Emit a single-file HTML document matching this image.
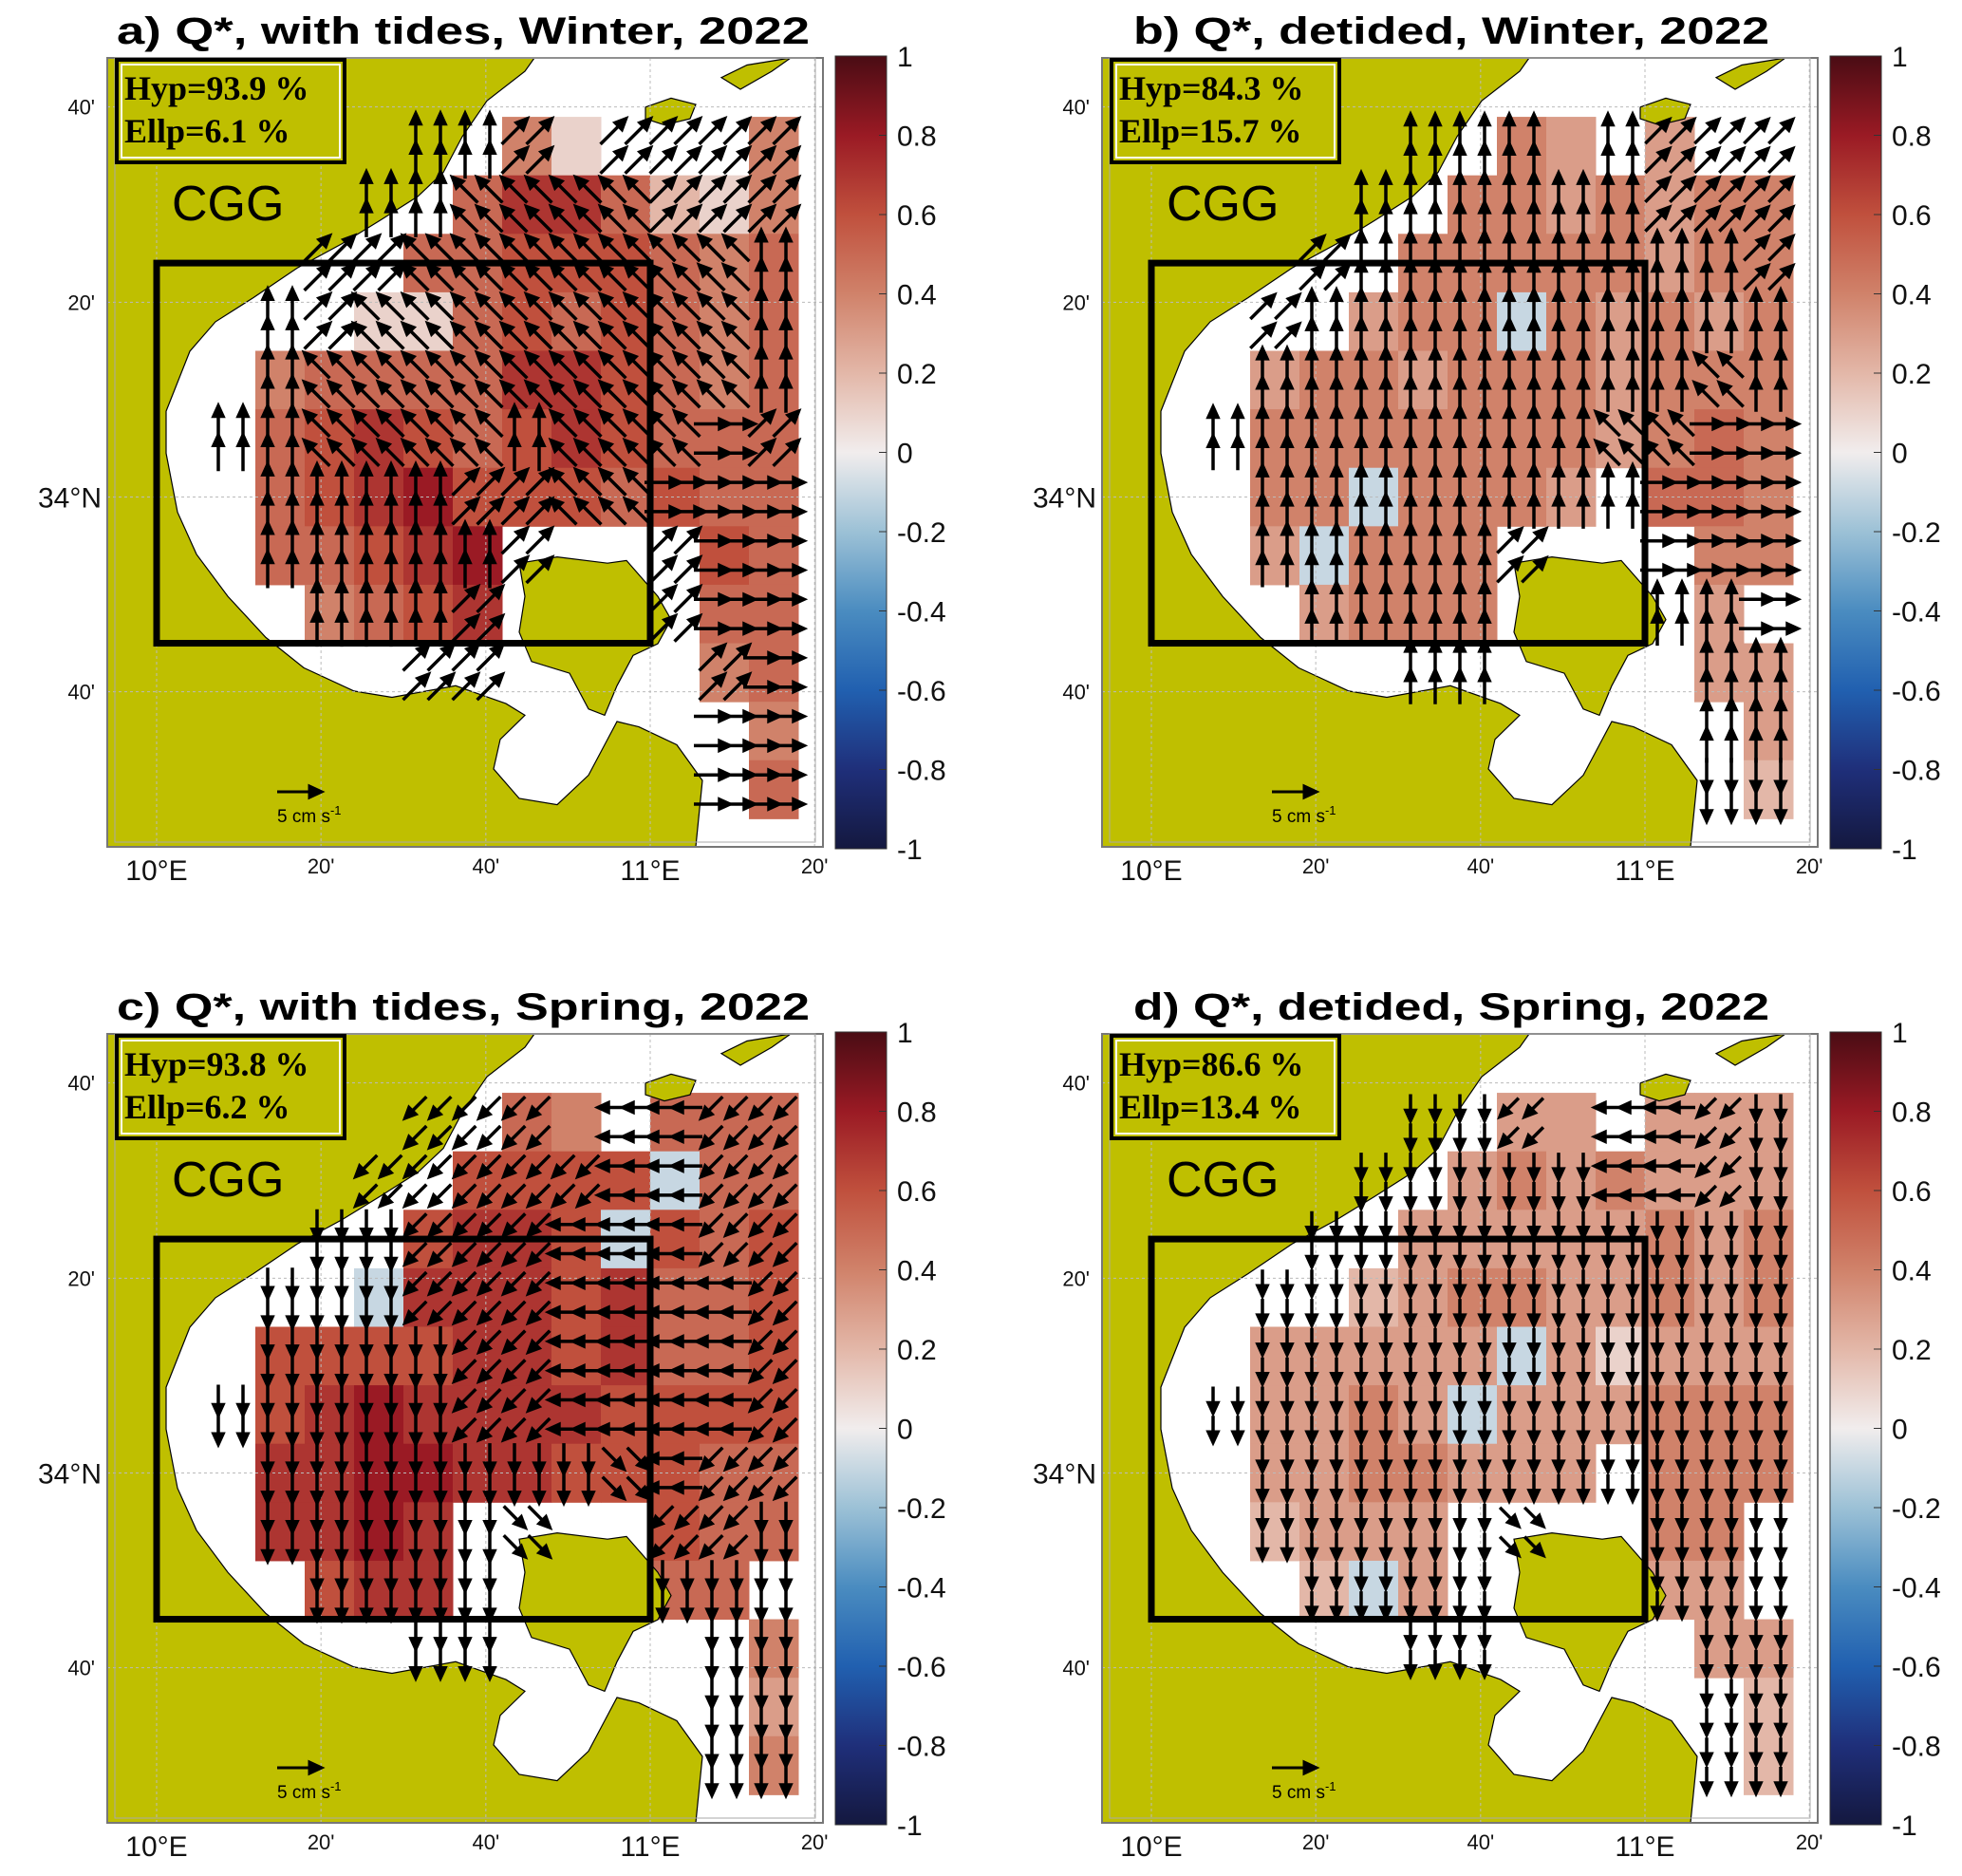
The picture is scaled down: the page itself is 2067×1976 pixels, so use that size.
<!DOCTYPE html>
<html><head><meta charset="utf-8"><style>
html,body{margin:0;padding:0;background:#fff}
svg{display:block}
</style></head><body>
<svg id="fig" xmlns="http://www.w3.org/2000/svg" width="2067" height="1976" viewBox="0 0 2067 1976">
<defs>
<linearGradient id="cmap" x1="0" y1="1" x2="0" y2="0">
<stop offset="0" stop-color="#14183f"/><stop offset="0.1" stop-color="#1f2f7a"/><stop offset="0.2" stop-color="#2160b0"/><stop offset="0.3" stop-color="#4a8cc0"/><stop offset="0.4" stop-color="#9cc1d6"/><stop offset="0.5" stop-color="#f1eded"/><stop offset="0.6" stop-color="#e3b7a8"/><stop offset="0.7" stop-color="#d0826a"/><stop offset="0.8" stop-color="#c0503d"/><stop offset="0.9" stop-color="#9a1a24"/><stop offset="1" stop-color="#4a0c14"/>
</linearGradient>
<clipPath id="waterclip"><polygon id="wcp" points=""/></clipPath>
<clipPath id="mapclip"><rect x="113" y="61" width="754" height="831"/></clipPath>
</defs>
</svg>
<script>
const titles = ["a) Q*, with tides, Winter, 2022","b) Q*, detided, Winter, 2022","c) Q*, with tides, Spring, 2022","d) Q*, detided, Spring, 2022"];
const hypValues = ["93.9","84.3","93.8","86.6"];
const ellpValues = ["6.1","15.7","6.2","13.4"];
const colorbarTicks = [1,0.8,0.6,0.4,0.2,0,-0.2,-0.4,-0.6,-0.8,-1];
const latTicks = [34.667,34.333,34,33.667];
const latTickLabels = ["40'","20'","34°N","40'"];
const lonTicks = [10,10.333,10.667,11,11.333];
const lonTickLabels = ["10°E","20'","40'","11°E","20'"];
const heatA = ["......41...4",".....5775214","....55666545","...115656545",".45555776545",".56765676555",".56786665655",".55678....65","..4567....55","..........45","...........4","...........5"];
const heatB = ["......43.3..",".....4434344","....44444344","...344a43434",".34434443444",".44444443454",".44a4443.554",".3a444....44","..3444....3.","..........33","...........3","...........2"];
const heatC = ["......54.555",".....6666a55","....6776a656","...a77767556",".66667767556",".67877776666",".77887766655",".7787....655","..677....55.","...........4","...........3","...........4"];
const heatD = ["......33.333",".....3434333","....33333434","...234433434",".33333a31333",".3343a333444",".3344333.444",".2333....44.","..2a3....33.","..........33","...........2","...........2"];
// directions: 0=N,1=NE,2=E,3=SE,4=S,5=SW,6=W,7=NW
const dirA = ["....001.1111","...007777111","..1177777770",".01777777770",".07777777770","007777077721",".00001177222",".000001..122","..0001...122","....11....12","..........22","..........22"];
const dirB = ["....000.0111","...000000111","..1000000001",".10000000000",".00000000070","000000007722",".00000000222",".000001..222","..0000...002","....00....00","..........00","..........44"];
const dirC = ["....555.6655","...555556655","..4455566655",".44455566665",".44445566665","444445566665",".44444443655",".444443..554","..4444...444","....44....44","..........44","..........44"];
const dirD = ["....445.6654","...444446654","..4444444444",".44444444444",".44444444444","444444444444",".44444444444",".444443..444","..4444...444","....44....44","..........44","..........44"];

const heats=[heatA,heatB,heatC,heatD], dirs=[dirA,dirB,dirC,dirD];
const arrowLen=[38,36,32,28];
const NS="http://www.w3.org/2000/svg";
const svg=document.getElementById('fig');
function mk(tag,attrs,parent){const e=document.createElementNS(NS,tag);for(const k in attrs)e.setAttribute(k,attrs[k]);(parent||svg).appendChild(e);return e;}
const Y=y=>61+(y-65)*0.942;
function tp(s){return s.trim().split(/\s+/).map(p=>{const [x,y]=p.split(',').map(Number);return x+','+Y(y).toFixed(1);}).join(' ');}
const lonToX=lon=>165+(lon-10)*520;
const latToY=lat=>Y(556-(lat-34)*654);
const stops=[[-1,[20,24,63]],[-0.8,[31,47,122]],[-0.6,[33,96,176]],[-0.4,[74,140,192]],[-0.2,[156,193,214]],[0,[241,237,237]],[0.2,[227,183,168]],[0.4,[208,130,106]],[0.6,[192,80,61]],[0.8,[154,26,36]],[1,[74,12,20]]];
function cmap(v){for(let i=0;i<stops.length-1;i++){const a=stops[i],b=stops[i+1];if(v<=b[0]){const t=(v-a[0])/(b[0]-a[0]);return 'rgb('+a[1].map((c,j)=>Math.round(c+(b[1][j]-c)*t)).join(',')+')';}}return 'rgb(74,12,20)';}
function decode(ch){if(ch==='.')return null;if(ch>='0'&&ch<='9')return +ch/10;return -(ch.charCodeAt(0)-96)/10;}
const waterPts=tp("733,947 740,873 713,833 673,813 650,807 637,833 620,867 587,900 547,893 520,860 527,827 553,800 533,787 480,767 413,780 373,773 320,747 280,713 240,667 207,620 187,573 175,507 175,460 200,393 227,360 267,333 313,300 360,273 400,247 440,220 467,193 487,153 513,113 553,80 563,65 867,65 867,947");
document.getElementById('wcp').setAttribute('points',waterPts);
const islands=[["djerba-island",tp("547,630 587,623 640,630 660,627 693,667 707,693 693,720 667,733 650,767 637,800 620,793 600,753 560,740 547,707 553,667")],["kerkennah-island",tp("680,120 707,110 733,117 727,133 700,140 680,133")],["northeast-island",tp("760,87 787,73 833,65 813,80 780,100")]];
const mapTop=61, mapBot=892;

for(let p=0;p<4;p++){
  const dx=(p%2)*1048, dy=Math.floor(p/2)*1028;
  const g=mk('g',{transform:`translate(${dx},${dy})`});
  
  
  const land=mk('rect',{x:113,y:mapTop,width:754,height:mapBot-mapTop,fill:'#bfbf00'},g);
  
  
  const water=mk('polygon',{points:waterPts,fill:'#fff',stroke:'#000','stroke-width':1.2},g);
  
  
  const hg=mk('g',{'clip-path':'url(#waterclip)'},g);
  
  
  const H=heats[p];
  for(let r=0;r<H.length;r++)for(let c=0;c<H[r].length;c++){
    const v=decode(H[r][c]); if(v===null)continue;
    const lon0=10.1+c*0.1, latTop=34.65-r*0.1;
    const x0=lonToX(lon0), x1=lonToX(lon0+0.1), y0=latToY(latTop), y1=latToY(latTop-0.1);
    const cell=mk('rect',{x:x0,y:y0,width:x1-x0+0.5,height:y1-y0+0.5,fill:cmap(v)},hg);
    
    
  }
  for(const [nm,pts] of islands){
    const isl=mk('polygon',{points:pts,fill:'#bfbf00',stroke:'#000','stroke-width':1.2},g);
    
    
  }
  for(const lt of latTicks){const y=latToY(lt);const l=mk('line',{x1:113,x2:867,y1:y,y2:y,stroke:'#bbb','stroke-width':1,'stroke-dasharray':'3,3'},g);}
  for(const ln of lonTicks){const x=lonToX(ln);const l=mk('line',{x1:x,x2:x,y1:mapTop,y2:mapBot,stroke:'#bbb','stroke-width':1,'stroke-dasharray':'3,3'},g);}
  const box=mk('rect',{x:lonToX(10),y:latToY(34.4),width:lonToX(11)-lonToX(10),height:latToY(33.75)-latToY(34.4),fill:'none',stroke:'#000','stroke-width':7},g);
  
  
  const ag=mk('g',{'clip-path':'url(#mapclip)'},g);
  
  
  const D=dirs[p], L=arrowLen[p];
  for(let r=0;r<D.length;r++)for(let c=0;c<D[r].length;c++){
    const ch=D[r][c]; if(ch==='.')continue;
    const ang=(+ch)*45*Math.PI/180;
    for(let sy=0;sy<2;sy++)for(let sx=0;sx<2;sx++){
      const lon=10.1+c*0.1+0.025+sx*0.05, lat=34.65-r*0.1-0.025-sy*0.05;
      const cx=lonToX(lon), cy=latToY(lat);
      const ux=Math.sin(ang), uy=-Math.cos(ang);
      const tx=cx+ux*L/2, ty=cy+uy*L/2, bx=cx-ux*L/2, by=cy-uy*L/2;
      const hx=tx-ux*11, hy=ty-uy*11, px=-uy*5, py=ux*5;
      const a=mk('path',{d:`M${bx.toFixed(1)},${by.toFixed(1)}L${hx.toFixed(1)},${hy.toFixed(1)}M${tx.toFixed(1)},${ty.toFixed(1)}L${(hx+px).toFixed(1)},${(hy+py).toFixed(1)}L${(hx-px).toFixed(1)},${(hy-py).toFixed(1)}Z`,stroke:'#000','stroke-width':3.5,fill:'#000'},ag);
      
      
    }
  }
  const fr=mk('rect',{x:113,y:mapTop,width:754,height:mapBot-mapTop,fill:'none',stroke:'#777','stroke-width':2},g);
  
  
  const fr2=mk('rect',{x:121,y:mapTop,width:738,height:mapBot-mapTop-5,fill:'none',stroke:'#aaa','stroke-width':1},g);
  
  
  latTicks.forEach((lt,i)=>{const big=latTickLabels[i].includes('N');const t=mk('text',{x:big?107:100,y:latToY(lt)+(big?11:8),'text-anchor':'end','font-family':'Liberation Sans, DejaVu Sans, sans-serif','font-size':big?30:22,fill:'#111'},g);t.textContent=latTickLabels[i];});
  lonTicks.forEach((ln,i)=>{const big=lonTickLabels[i].includes('E');const t=mk('text',{x:lonToX(ln),y:big?927:920,'text-anchor':'middle','font-family':'Liberation Sans, DejaVu Sans, sans-serif','font-size':big?30:22,fill:'#111'},g);t.textContent=lonTickLabels[i];});
  const tt=mk('text',{x:p%2?146:123,y:46,'font-family':'Liberation Sans, DejaVu Sans, sans-serif','font-weight':'bold','font-size':40,fill:'#000',textLength:p%2?670:730,lengthAdjust:'spacingAndGlyphs'},g);
  tt.textContent=titles[p];
  
  
  const hb=mk('rect',{x:123,y:63,width:240,height:108,fill:'#bfbf00',stroke:'#000','stroke-width':4},g);
  
  
  const hb2=mk('rect',{x:128,y:68,width:230,height:98,fill:'none',stroke:'#fff','stroke-width':2},g);
  
  
  const h1=mk('text',{x:131,y:105,'font-family':'Liberation Serif, serif','font-weight':'bold','font-size':36,fill:'#000'},g);
  h1.textContent='Hyp='+hypValues[p]+' %';
  
  
  const h2=mk('text',{x:131,y:150,'font-family':'Liberation Serif, serif','font-weight':'bold','font-size':36,fill:'#000'},g);
  h2.textContent='Ellp='+ellpValues[p]+' %';
  
  
  const cg=mk('text',{x:181,y:232,'font-family':'Liberation Sans, DejaVu Sans, sans-serif','font-size':52,fill:'#000'},g);
  cg.textContent='CGG';
  
  
  const sa=mk('path',{d:'M292,834L327,834M339,834L326,828L326,840Z',stroke:'#000','stroke-width':3,fill:'#000'},g);
  
  
  const st=mk('text',{x:292,y:866,'font-family':'Liberation Sans, DejaVu Sans, sans-serif','font-size':19,fill:'#000'},g);
  st.innerHTML='5 cm s<tspan dy="-8" font-size="13">-1</tspan>';
  
  
  const cbTop=59, cbH=835;
  const cb=mk('rect',{x:880,y:cbTop,width:54,height:cbH,fill:'url(#cmap)',stroke:'#333','stroke-width':1},g);
  
  
  colorbarTicks.forEach(v=>{const y=cbTop+(1-v)/2*cbH;const t=mk('text',{x:945,y:y+11,'font-family':'Liberation Sans, DejaVu Sans, sans-serif','font-size':30,fill:'#111'},g);t.textContent=String(v);const tk=mk('line',{x1:926,x2:934,y1:y,y2:y,stroke:'#333'},g);});
}
</script>
</body></html>
